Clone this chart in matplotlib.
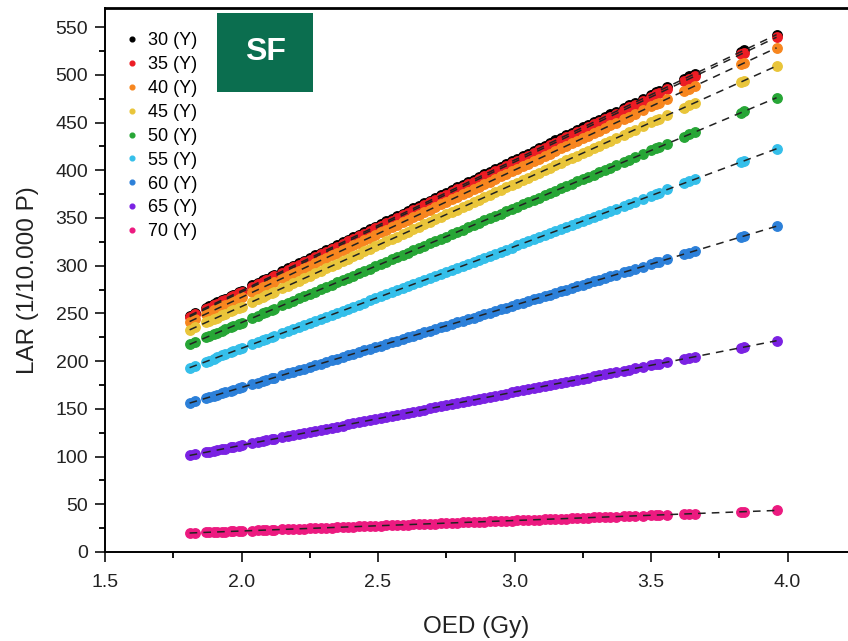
import matplotlib
matplotlib.use("Agg")
import matplotlib.pyplot as plt
import numpy as np
from matplotlib.patches import Rectangle
from matplotlib.ticker import MultipleLocator

plt.rcParams['font.family'] = ['Liberation Sans', 'DejaVu Sans']

# organ-equivalent dose values (Gy)
oed = [1.81, 1.83, 1.87, 1.88, 1.90, 1.91, 1.93, 1.94, 1.96, 1.97, 1.99, 2.00,
       2.04, 2.06, 2.08, 2.09, 2.11, 2.12, 2.15, 2.17, 2.19, 2.21,
       2.23, 2.25, 2.27, 2.29, 2.31, 2.33, 2.35, 2.37, 2.39, 2.41, 2.43, 2.45,
       2.47, 2.49, 2.51, 2.53, 2.55, 2.57, 2.59, 2.61, 2.63, 2.65, 2.67, 2.69,
       2.71, 2.73, 2.75, 2.77, 2.79, 2.81, 2.83, 2.85, 2.87, 2.89, 2.91, 2.93,
       2.95, 2.97, 2.99, 3.01, 3.03, 3.05, 3.07, 3.09, 3.11, 3.13, 3.15, 3.17,
       3.19, 3.21, 3.23, 3.25, 3.27, 3.29, 3.31, 3.33, 3.35, 3.37,
       3.40, 3.42, 3.44, 3.47, 3.50, 3.52, 3.53, 3.56, 3.62, 3.64, 3.66,
       3.83, 3.84, 3.96]

ages = ['30 (Y)', '35 (Y)', '40 (Y)', '45 (Y)', '50 (Y)', '55 (Y)', '60 (Y)', '65 (Y)', '70 (Y)']
# LAR per Gy for each age (slope of the fitted lines)
risk_per_gy = [136.9, 136.2, 133.4, 128.6, 120.2, 106.7, 86.2, 55.9, 11.0]
colors = ['#000000', '#ec1c24', '#f7861f', '#e9c53a', '#27a636', '#35bfea',
          '#2c80d9', '#7b22e3', '#ec1a80']

fig = plt.figure(figsize=(8.48, 6.41), dpi=100)
ax = fig.add_axes([105 / 848, 1 - 552 / 641, 1 - 105 / 848, (552 - 8) / 641])

x = np.array(oed)
for lab, k, c in zip(ages, risk_per_gy, colors):
    lar = k * x
    ax.plot(x, lar, 'o', color=c, ms=6.8, mec=c, label=lab, zorder=2)
for k in risk_per_gy:
    ax.plot(x, k * x, color='#222222', lw=1.1, dashes=(5, 4), zorder=3)

ax.set_xlim(1.5, 1.5 + 743 / 273)
ax.set_ylim(0, 570)
ax.xaxis.set_major_locator(MultipleLocator(0.5))
ax.xaxis.set_minor_locator(MultipleLocator(0.25))
ax.yaxis.set_major_locator(MultipleLocator(50))
ax.yaxis.set_minor_locator(MultipleLocator(25))
ax.tick_params(which='major', direction='out', length=7, width=1.3, labelsize=14,
               colors='#222222', pad=5)
ax.tick_params(axis='x', which='major', pad=9)
ax.tick_params(which='minor', direction='out', length=4, width=1.3)
ax.xaxis.set_major_formatter(matplotlib.ticker.FormatStrFormatter('%.1f'))
for s in ['left', 'bottom', 'top']:
    ax.spines[s].set_linewidth(1.4)
ax.spines['top'].set_linewidth(2.0)
ax.spines['right'].set_visible(False)

ax.set_xlabel('OED (Gy)', fontsize=17.5, color='#222222', labelpad=18)
ax.set_ylabel('LAR (1/10.000 P)', fontsize=17.5, color='#222222', labelpad=12)

leg = ax.legend(loc='upper left', bbox_to_anchor=(-0.012, 0.995), frameon=False,
                fontsize=13, markerscale=0.5, handletextpad=0.1, handlelength=1.6,
                labelspacing=0.38, borderaxespad=0.8)

fig.patches.append(Rectangle((217 / 848, 1 - 92 / 641), 96 / 848, 79 / 641,
                             transform=fig.transFigure, facecolor='#0b6e4f',
                             edgecolor='none', zorder=5))
fig.text(265 / 848, 1 - 52 / 641, 'SF', color='white', fontsize=23,
         fontweight='bold', ha='center', va='center', zorder=6)

fig.savefig('out.png', dpi=100)
